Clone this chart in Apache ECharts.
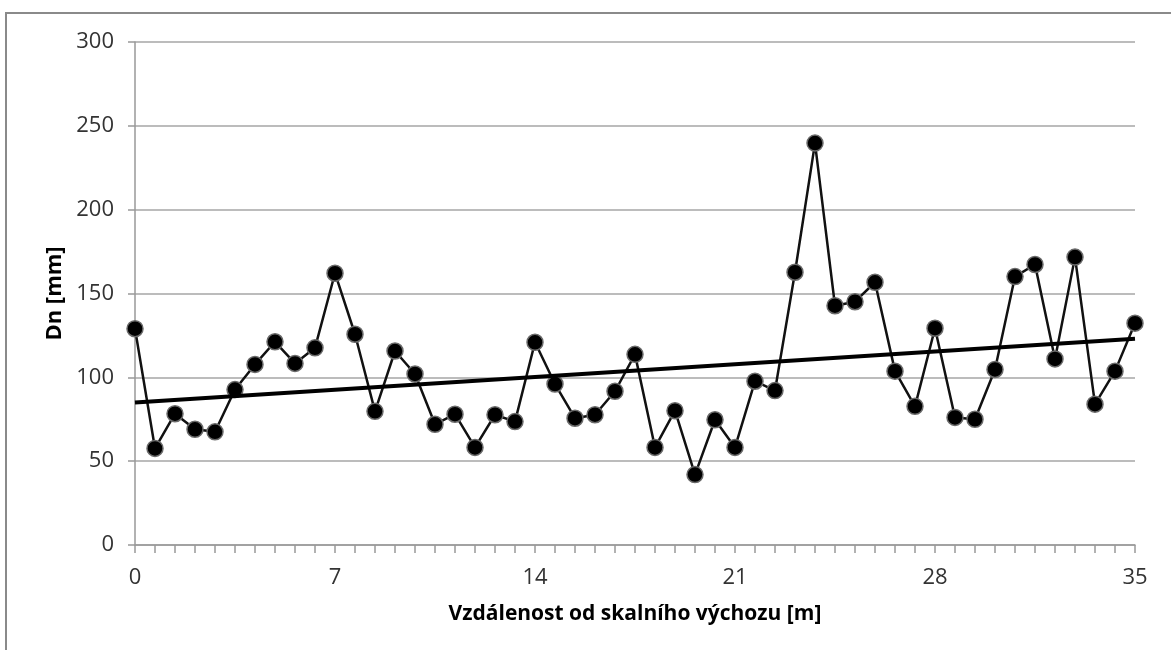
<!DOCTYPE html>
<html>
<head>
<meta charset="utf-8">
<script src="https://cdn.jsdelivr.net/npm/echarts@6/dist/echarts.min.js"></script>
<style>
html,body{margin:0;padding:0;background:#fff;}
#chart{width:1171px;height:650px;}
</style>
</head>
<body>
<div id="chart"></div>
<script>
var categories = ["0","0.7","1.4","2.1","2.8","3.5","4.2","4.9","5.6","6.3",
  "7","7.7","8.4","9.1","9.8","10.5","11.2","11.9","12.6","13.3",
  "14","14.7","15.4","16.1","16.8","17.5","18.2","18.9","19.6","20.3",
  "21","21.7","22.4","23.1","23.8","24.5","25.2","25.9","26.6","27.3",
  "28","28.7","29.4","30.1","30.8","31.5","32.2","32.9","33.6","34.3","35"];
var dnValues = [129, 57.6, 78.3, 69, 67.5, 92.7, 107.7, 121.2, 108.3, 117.6,
  162.1, 125.7, 79.7, 115.7, 102, 72, 78, 58.2, 77.7, 73.6,
  120.9, 96, 75.6, 77.7, 91.7, 113.7, 58.2, 80.1, 42, 74.7,
  58.2, 97.7, 92.1, 162.7, 239.7, 142.7, 145.1, 156.7, 103.7, 82.7,
  129.3, 76.1, 75, 104.7, 160.1, 167.3, 111, 171.7, 84, 103.7, 132.3];
var trendEnds = [85, 123];
var yTicks = [0, 50, 100, 150, 200, 250, 300];

var trendData = categories.map(function(c, i){
  if (i === 0) return trendEnds[0];
  if (i === categories.length - 1) return trendEnds[1];
  return null;
});

var FONT = "Open Sans";
var chart = echarts.init(document.getElementById('chart'), null, {renderer:'canvas'});
chart.setOption({
  animation: false,
  backgroundColor: '#fff',
  graphic: [{
    type: 'rect', shape: {x: 6, y: 13, width: 1250, height: 700},
    style: {fill: 'none', stroke: '#8a8a8a', lineWidth: 2}, silent: true, z: 100
  }],
  grid: {left: 135, right: 36, top: 42, bottom: 105, containLabel: false},
  xAxis: {
    type: 'category',
    data: categories,
    boundaryGap: false,
    name: 'Vzdálenost od skalního výchozu [m]',
    nameLocation: 'middle',
    nameGap: 59,
    nameTextStyle: {fontFamily: FONT, fontWeight: 'bold', fontSize: 21, color: '#000'},
    axisLine: {lineStyle: {color: '#999', width: 1.5}},
    axisTick: {show: true, interval: 0, length: 8, inside: false, lineStyle: {color: '#999', width: 1.5}},
    axisLabel: {interval: 9, margin: 22, fontFamily: FONT, fontSize: 22, color: '#333'},
    splitLine: {show: false}
  },
  yAxis: {
    type: 'value',
    min: yTicks[0], max: yTicks[yTicks.length-1], interval: 50,
    name: 'Dn [mm]',
    nameLocation: 'middle',
    nameGap: 68,
    nameRotate: 90,
    nameTextStyle: {fontFamily: FONT, fontWeight: 'bold', fontSize: 22, color: '#000'},
    axisLine: {show: true, lineStyle: {color: '#999', width: 1.5}},
    axisTick: {show: true, length: 7, lineStyle: {color: '#999', width: 1.5}},
    axisLabel: {margin: 21, fontFamily: FONT, fontSize: 22, color: '#333'},
    splitLine: {show: true, lineStyle: {color: '#a6a6a6', width: 1.5}}
  },
  series: [{
    type: 'line',
    data: dnValues,
    symbol: 'circle',
    symbolSize: 16,
    showSymbol: true,
    showAllSymbol: true,
    lineStyle: {color: '#111', width: 2.5},
    itemStyle: {color: '#000', borderColor: '#6a6a6a', borderWidth: 1.5},
    z: 2
  }, {
    type: 'line',
    data: trendData,
    connectNulls: true,
    symbol: 'none',
    lineStyle: {color: '#000', width: 4},
    z: 3
  }]
});
</script>
</body>
</html>
